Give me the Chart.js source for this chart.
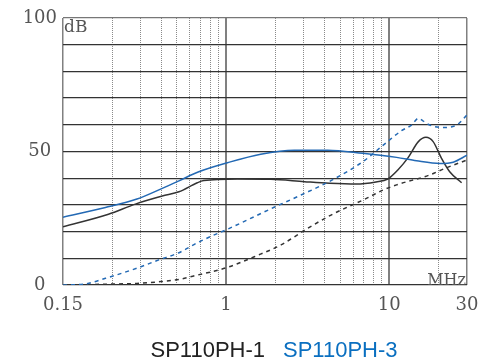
<!DOCTYPE html>
<html>
<head>
<meta charset="utf-8">
<script src="https://cdn.jsdelivr.net/npm/chart.js@4.4.1/dist/chart.umd.min.js"></script>
<style>
  html, body { margin: 0; padding: 0; background: #fff; }
  #wrap { width: 478px; height: 362px; }
</style>
</head>
<body>
<div id="wrap"><canvas id="c" width="478" height="362"></canvas></div>
<script>
// 频率 (MHz) 与 插入损耗 (dB)
const ph1Freq  = [0.1, 0.19, 0.278, 0.406, 0.514, 0.666, 0.73, 1.17, 1.88, 3.02, 4.3, 6.27, 8.3, 9.8, 11.3, 13.0, 15.1, 16.8, 18.6, 20.9, 23.5, 27.8];
const ph1Solid = [21.8, 26.5, 30.3, 33.3, 34.9, 38.3, 39.1, 39.7, 39.6, 38.7, 38.1, 37.8, 38.6, 39.7, 43.1, 47.5, 53.7, 55.3, 53.7, 47.5, 42.4, 38.3];

const ph1DashFreq = [0.1, 0.182, 0.284, 0.387, 0.514, 0.666, 1.02, 1.49, 2.17, 3.16, 4.4, 7.4, 9.2, 11.1, 17.7, 22, 30];
const ph1Dash     = [0, 0.3, 0.6, 1.2, 2.1, 3.7, 6.6, 10.6, 15, 21.2, 26.2, 32.7, 35.6, 37.5, 41.2, 43.7, 46.8];

const ph3Freq  = [0.1, 0.182, 0.284, 0.406, 0.514, 0.68, 1.02, 1.63, 2.62, 4.2, 6.9, 11.1, 14.7, 20.5, 24.7, 30];
const ph3Solid = [25.4, 29, 32.2, 36.2, 39, 42.4, 45.8, 49, 50.5, 50.5, 49.3, 47.8, 46.5, 45.5, 46, 48.6];

const ph3DashFreq = [0.1, 0.137, 0.182, 0.284, 0.387, 0.514, 0.666, 0.82, 1.02, 1.97, 2.88, 4.4, 6.9, 9.2, 11.9, 13.7, 15.1, 16.1, 17.7, 21.4, 25.9, 30];
const ph3Dash     = [0, 0.4, 2.5, 6.3, 9.4, 12.1, 15.8, 18.4, 20.9, 29.1, 33.7, 39.1, 46.2, 52.4, 57.8, 59.9, 62.4, 61.5, 59.9, 59, 59.9, 63.7];

// 坐标轴
const xGrid = [0.1, 0.2, 0.3, 0.4, 0.5, 0.6, 0.7, 0.8, 0.9, 1, 2, 3, 4, 5, 6, 7, 8, 9, 10, 20, 30];
const xTickLabels = { 0.1: '0.15', 1: '1', 10: '10', 30: '30' };
const xSolidLines = [0.1, 1, 10, 30];
const yTickLabels = { 0: '0', 50: '50', 100: '100' };
const seriesNames = ['SP110PH-1', 'SP110PH-3'];
const xUnit = 'MHz';
const yUnit = 'dB';

const BLACK = '#333333';
const BLUE = '#2369b4';

function pts(xs, ys) {
    return xs.map((x, i) => ({ x: x, y: ys[i] }));
}

// 单位与底部图例文字
const labelPlugin = {
    id: 'labelPlugin',
    afterDraw(chart) {
        const { ctx, chartArea: a } = chart;
        ctx.save();
        ctx.fillStyle = '#555';
        ctx.font = '17px "DejaVu Serif"';
        ctx.textBaseline = 'alphabetic';
        ctx.textAlign = 'left';
        ctx.fillText(yUnit, a.left + 1, a.top + 14);
        ctx.font = '16px "DejaVu Serif"';
        ctx.textAlign = 'right';
        ctx.fillText(xUnit, a.right - 1, a.bottom);

        ctx.font = '22px "Liberation Sans"';
        ctx.textAlign = 'left';
        const gap = 18;
        const w1 = ctx.measureText(seriesNames[0]).width;
        const w2 = ctx.measureText(seriesNames[1]).width;
        let x = 274 - (w1 + gap + w2) / 2;
        ctx.fillStyle = '#222';
        ctx.fillText(seriesNames[0], x, 357);
        ctx.fillStyle = '#0a6fc0';
        ctx.fillText(seriesNames[1], x + w1 + gap, 357);
        ctx.restore();
    }
};

const lineBase = {
    borderWidth: 1.5,
    pointRadius: 0,
    fill: false,
    cubicInterpolationMode: 'monotone'
};

new Chart(document.getElementById('c'), {
    type: 'line',
    data: {
        datasets: [
            Object.assign({ label: seriesNames[1], data: pts(ph3DashFreq, ph3Dash), borderColor: BLUE, borderDash: [4, 4] }, lineBase),
            Object.assign({ label: seriesNames[0], data: pts(ph1DashFreq, ph1Dash), borderColor: BLACK, borderDash: [4, 4] }, lineBase),
            Object.assign({ label: seriesNames[1], data: pts(ph3Freq, ph3Solid), borderColor: BLUE }, lineBase),
            Object.assign({ label: seriesNames[0], data: pts(ph1Freq, ph1Solid), borderColor: BLACK }, lineBase)
        ]
    },
    options: {
        responsive: false,
        animation: false,
        layout: { padding: { top: 18, right: 11, bottom: 40, left: 0 } },
        plugins: {
            legend: { display: false },
            tooltip: { enabled: false }
        },
        scales: {
            x: {
                type: 'logarithmic',
                min: 0.1,
                max: 30,
                afterBuildTicks(scale) {
                    scale.ticks = xGrid.map(v => ({ value: v }));
                },
                afterFit(scale) {
                    scale.height = 37;
                    scale.paddingLeft = 0;
                    scale.paddingRight = 0;
                },
                border: {
                    display: false,
                    dash: ctx => (ctx.tick && xSolidLines.includes(ctx.tick.value)) ? [] : [1, 1]
                },
                grid: {
                    drawTicks: false,
                    color: ctx => (ctx.tick && xSolidLines.includes(ctx.tick.value)) ? '#808080' : '#8a8a8a',
                    lineWidth: ctx => {
                        if (!ctx.tick) return 1;
                        const v = ctx.tick.value;
                        if (v === 1 || v === 10) return 2;
                        return xSolidLines.includes(v) ? 1.5 : 1;
                    }
                },
                ticks: {
                    autoSkip: false,
                    maxRotation: 0,
                    padding: 10,
                    color: '#555',
                    font: { family: 'DejaVu Serif', size: 18 },
                    callback: value => xTickLabels[value] || ''
                }
            },
            y: {
                min: 0,
                max: 100,
                afterFit(scale) { scale.width = 63; },
                border: { display: false },
                grid: {
                    drawTicks: false,
                    color: ctx => ctx.tick && ctx.tick.value === 100 ? '#777' : '#333',
                    lineWidth: 1.3
                },
                ticks: {
                    stepSize: 10,
                    padding: 6,
                    crossAlign: 'center',
                    color: '#555',
                    font: { family: 'DejaVu Serif', size: 18 },
                    callback: value => yTickLabels[value] || ''
                }
            }
        }
    },
    plugins: [labelPlugin]
});
</script>
</body>
</html>
